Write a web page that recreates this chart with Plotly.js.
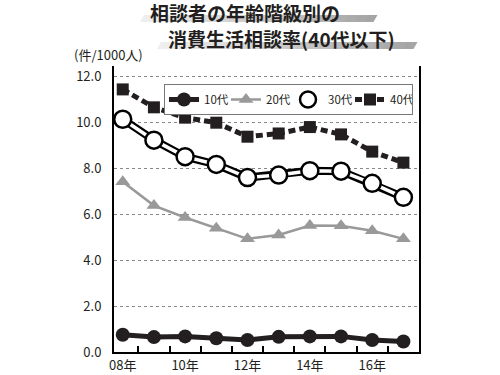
<!DOCTYPE html>
<html><head><meta charset="utf-8">
<script src="https://cdn.plot.ly/plotly-3.0.1.min.js"></script>
<style>html,body{margin:0;padding:0;background:#fff}#c{width:500px;height:375px}</style>
</head><body><div id="c"></div>
<script>
const years = [2008, 2009, 2010, 2011, 2012, 2013, 2014, 2015, 2016, 2017];
const teens = [0.75, 0.65, 0.68, 0.6, 0.52, 0.66, 0.68, 0.68, 0.52, 0.46];
const twenties = [7.42, 6.38, 5.86, 5.39, 4.93, 5.1, 5.51, 5.5, 5.28, 4.93];
const thirties = [10.14, 9.23, 8.51, 8.17, 7.6, 7.71, 7.9, 7.88, 7.35, 6.74];
const forties = [11.44, 10.66, 10.21, 9.99, 9.38, 9.52, 9.8, 9.48, 8.73, 8.25];
const seriesNames = ['10代', '20代', '30代', '40代'];
const tickYears = [2008, 2010, 2012, 2014, 2016];
const tickLabels = ['08年', '10年', '12年', '14年', '16年'];
const minorTicks = [2008.5, 2009.5, 2010.5, 2011.5, 2012.5, 2013.5, 2014.5, 2015.5, 2016.5];
const yTicks = [0, 2, 4, 6, 8, 10, 12];
const yTickLabels = ['0.0', '2.0', '4.0', '6.0', '8.0', '10.0', '12.0'];
const titleLine1 = '相談者の年齢階級別の';
const titleLine2 = '消費生活相談率(40代以下)';
const unitLabel = '(件/1000人)';

const FONT = '"Noto Sans CJK JP", "Noto Sans", sans-serif';
const INK = '#231f20';
// plot area in pixels: left 114, right 419, top 66, bottom 352
const L = 114, R = 419, T = 66, B = 352;
const px = x => (x - L) / (R - L);
const py = y => (B - y) / (B - T);

function bar(x0, x1, yTop, yBot, slant, n, c0, c1) {
  const shapes = [];
  for (let i = 0; i < n; i++) {
    const a = x0 + (x1 - x0) * i / n, b = x0 + (x1 - x0) * (i + 1) / n + 0.5;
    const t = i / (n - 1);
    const g = Math.round(c0 + (c1 - c0) * t);
    const col = `rgb(${g},${g},${g})`;
    shapes.push({type: 'path', xref: 'paper', yref: 'paper', layer: 'above',
      path: `M ${px(a + slant)} ${py(yTop)} L ${px(b + slant)} ${py(yTop)} L ${px(b)} ${py(yBot)} L ${px(a)} ${py(yBot)} Z`,
      fillcolor: col, line: {width: 0}});
  }
  return shapes;
}
const shapes = [].concat(
  bar(140, 373, 15, 22, 4, 24, 238, 165),
  bar(157, 413, 42, 49, 4, 24, 238, 165)
);

const data = [
  {x: years, y: teens, name: seriesNames[0], mode: 'lines+markers',
   line: {color: INK, width: 5}, marker: {symbol: 'circle', size: 14, color: INK}},
  {x: years, y: twenties, name: seriesNames[1], mode: 'lines+markers',
   line: {color: '#999999', width: 2.5}, marker: {symbol: 'triangle-up', size: 13, color: '#999999'}},
  {x: years, y: thirties, name: seriesNames[2], mode: 'lines', legendgroup: 'g30', showlegend: false,
   line: {color: '#000', width: 8}, hoverinfo: 'skip'},
  {x: years, y: thirties, name: seriesNames[2], mode: 'lines+markers', legendgroup: 'g30',
   line: {color: '#fff', width: 3.5}, marker: {symbol: 'circle', size: 17, color: '#fff', line: {color: '#000', width: 2.5}}},
  {x: years, y: forties, name: seriesNames[3], mode: 'lines+markers',
   line: {color: INK, width: 5, dash: '7px,4px'}, marker: {symbol: 'square', size: 12, color: INK}}
];

const layout = {
  width: 500, height: 375,
  margin: {l: L, r: 500 - R, t: T, b: 375 - B, pad: 0},
  paper_bgcolor: '#fff', plot_bgcolor: '#fff',
  font: {family: FONT, color: INK, size: 13},
  showlegend: true,
  legend: {orientation: 'h', x: px(413), y: py(84), xanchor: 'right', yanchor: 'top',
    bordercolor: '#777', borderwidth: 1, bgcolor: '#fff', font: {size: 11.5, family: FONT, color: INK},
    itemwidth: 30, entrywidth: 17, entrywidthmode: 'pixels', tracegroupgap: 0},
  xaxis: {range: [2007.72, 2017.5], tickmode: 'array', tickvals: tickYears, ticktext: tickLabels,
    ticks: 'inside', ticklen: 0, tickwidth: 0, showgrid: false, zeroline: false, showline: true, linecolor: '#000', linewidth: 2,
    tickfont: {size: 13, family: FONT, color: INK},
    minor: {tickmode: 'array', tickvals: minorTicks, ticks: 'inside', ticklen: 6, tickwidth: 2, tickcolor: '#000', showgrid: false}},
  yaxis: {range: [0, 12.46], tickmode: 'array', tickvals: yTicks, ticktext: yTickLabels,
    ticks: '', showgrid: true, gridcolor: '#888', griddash: 'dot', gridwidth: 1, zeroline: false,
    showline: true, mirror: true, linecolor: '#000', linewidth: 2, ticklabelstandoff: 8,
    tickfont: {size: 13, family: FONT, color: INK}},
  shapes: shapes,
  annotations: [
    {text: '<b>' + titleLine1 + '</b>', xref: 'paper', yref: 'paper', x: px(148), y: py(12.5), xanchor: 'left', yanchor: 'middle',
     showarrow: false, font: {size: 19, family: FONT, color: INK}},
    {text: '<b>' + titleLine2 + '</b>', xref: 'paper', yref: 'paper', x: px(166), y: py(38), xanchor: 'left', yanchor: 'middle',
     showarrow: false, font: {size: 19, family: FONT, color: INK}},
    {text: unitLabel, xref: 'paper', yref: 'paper', x: px(72), y: py(54), xanchor: 'left', yanchor: 'middle',
     showarrow: false, font: {size: 13, family: FONT, color: INK}}
  ]
};
Plotly.newPlot('c', data, layout, {staticPlot: true, displayModeBar: false});
</script></body></html>
